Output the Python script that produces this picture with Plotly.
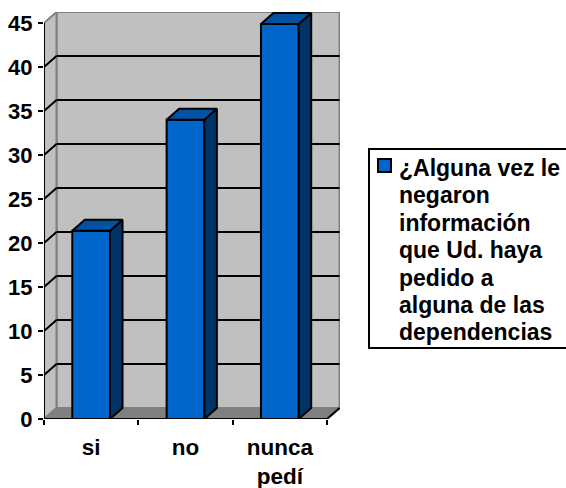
import plotly.graph_objects as go

categories = ["si", "no", "nunca<br>pedí"]
values = [21.4, 34, 44.9]
y_ticks = [0, 5, 10, 15, 20, 25, 30, 35, 40, 45]
legend_lines = ["¿Alguna vez le", "negaron", "información", "que Ud. haya",
                "pedido a", "alguna de las", "dependencias"]

W, H = 566, 488
L, R, T, B = 44, 340, 12, 419
PX_X = 283 / 3
PX_Y = 396 / 45
DX, DY = 12.5 / PX_X, 11 / PX_Y
X0, X1 = -0.5, 2.5
YMAX = 45
BAR_W = 0.40

FRONT, TOP, SIDE = "#0066CC", "#0052A3", "#003366"
WALL, FLOOR, EDGE = "#C0C0C0", "#808080", "#808080"
FONT = "Liberation Sans, Arial, sans-serif"

fig = go.Figure()
shapes = []


def poly(xs, ys, fill, line=None, width=2, layer="below"):
    path = "M" + " L".join(f"{x},{y}" for x, y in zip(xs, ys)) + " Z"
    shapes.append(dict(type="path", path=path, xref="x", yref="y", layer=layer,
                       fillcolor=fill, line=dict(color=line or fill, width=width if line else 0)))


def seg(x0, y0, x1, y1, color="black", width=2, layer="below"):
    shapes.append(dict(type="line", x0=x0, y0=y0, x1=x1, y1=y1, xref="x", yref="y",
                       layer=layer, line=dict(color=color, width=width)))


# back wall, side wall, floor
poly([X0 + DX, X1 + DX, X1 + DX, X0 + DX], [DY, DY, YMAX + DY, YMAX + DY], WALL, EDGE)
poly([X0, X0 + DX, X0 + DX, X0], [0, DY, YMAX + DY, YMAX], WALL, EDGE)
poly([X0, X0 + DX, X1 + DX, X1], [0, DY, DY, 0], FLOOR, EDGE)

# gridlines on the walls
for t in y_ticks[1:-1]:
    seg(X0, t, X0 + DX, t + DY)
    seg(X0 + DX, t + DY, X1 + DX, t + DY)
seg(X1, 0, X1 + DX, DY)

# front bars
fig.add_trace(go.Bar(x=list(range(len(values))), y=values, width=BAR_W, xaxis="x", yaxis="y",
                     marker=dict(color=FRONT, line=dict(color="black", width=2)),
                     hoverinfo="skip", showlegend=False))

# 3-D faces of bars derived from the values
for i, v in enumerate(values):
    l, r = i - BAR_W / 2, i + BAR_W / 2
    fig.add_trace(go.Scatter(x=[r, r + DX, r + DX, r, r], y=[0, DY, v + DY, v, 0], mode="lines",
                             fill="toself", fillcolor=SIDE, line=dict(color="black", width=2),
                             hoverinfo="skip", showlegend=False))
    fig.add_trace(go.Scatter(x=[l, l + DX, r + DX, r, l], y=[v, v + DY, v + DY, v, v], mode="lines",
                             fill="toself", fillcolor=TOP, line=dict(color="black", width=2),
                             hoverinfo="skip", showlegend=False))

# axis lines stop at the front plane
seg(X0, 0, X0, YMAX, layer="above")
seg(X0, 0, X1, 0, layer="above")


# legend box
def px(x):
    return (x - L) / (R - L)


def py(y):
    return (B - y) / (B - T)


shapes.append(dict(type="rect", xref="paper", yref="paper", x0=px(369), x1=px(572), y0=py(149), y1=py(348),
                   fillcolor="white", line=dict(color="black", width=2)))
shapes.append(dict(type="rect", xref="paper", yref="paper", x0=px(378), x1=px(391), y0=py(172), y1=py(159),
                   fillcolor=FRONT, line=dict(color="black", width=2)))
annotations = [dict(text=f"<b>{t}</b>", xref="paper", yref="paper", x=px(399), y=py(168 + 27.4 * i),
                    xanchor="left", yanchor="middle", showarrow=False, xshift=-2,
                    font=dict(family=FONT, size=23, color="black"))
               for i, t in enumerate(legend_lines)]

fig.update_layout(
    width=W, height=H, margin=dict(l=L, r=W - R, t=T, b=H - B, autoexpand=False),
    paper_bgcolor="white", plot_bgcolor="white", showlegend=False,
    shapes=shapes, annotations=annotations, barmode="overlay",
    font=dict(family=FONT, color="black"),
    xaxis=dict(range=[X0, X0 + (R - L) / PX_X], tickmode="array", tickvals=[0, 1, 2],
               ticktext=[f"<b>{c.replace('<br>', '</b><br><b>')}</b>" for c in categories],
               ticks="", showgrid=False, zeroline=False, showline=False,
               tickfont=dict(size=22.5, family=FONT), ticklabelstandoff=12),
    xaxis2=dict(overlaying="x", matches="x", side="bottom", anchor="y", tickmode="array",
                tickvals=[X0, 0.5, 1.5, X1], ticktext=["", "", "", ""], ticks="outside",
                ticklen=5, tickwidth=2, tickcolor="black", showgrid=False, zeroline=False, showline=False),
    yaxis=dict(range=[0, (B - T) / PX_Y], tickmode="array", tickvals=y_ticks,
               ticktext=[f"<b>{t}</b>" for t in y_ticks], ticks="outside", ticklen=5, tickwidth=2,
               tickcolor="black", showgrid=False, zeroline=False, showline=False,
               tickfont=dict(size=22, family=FONT), ticklabelstandoff=1),
)
# dummy trace activates the tick-only axis
fig.add_trace(go.Scatter(x=[0], y=[0], xaxis="x2", yaxis="y", mode="markers", marker=dict(opacity=0),
                         hoverinfo="skip", showlegend=False))

fig.write_html("out.html", config={"displayModeBar": False},
               post_script="document.body.style.margin='0';document.documentElement.style.overflow='hidden';")
